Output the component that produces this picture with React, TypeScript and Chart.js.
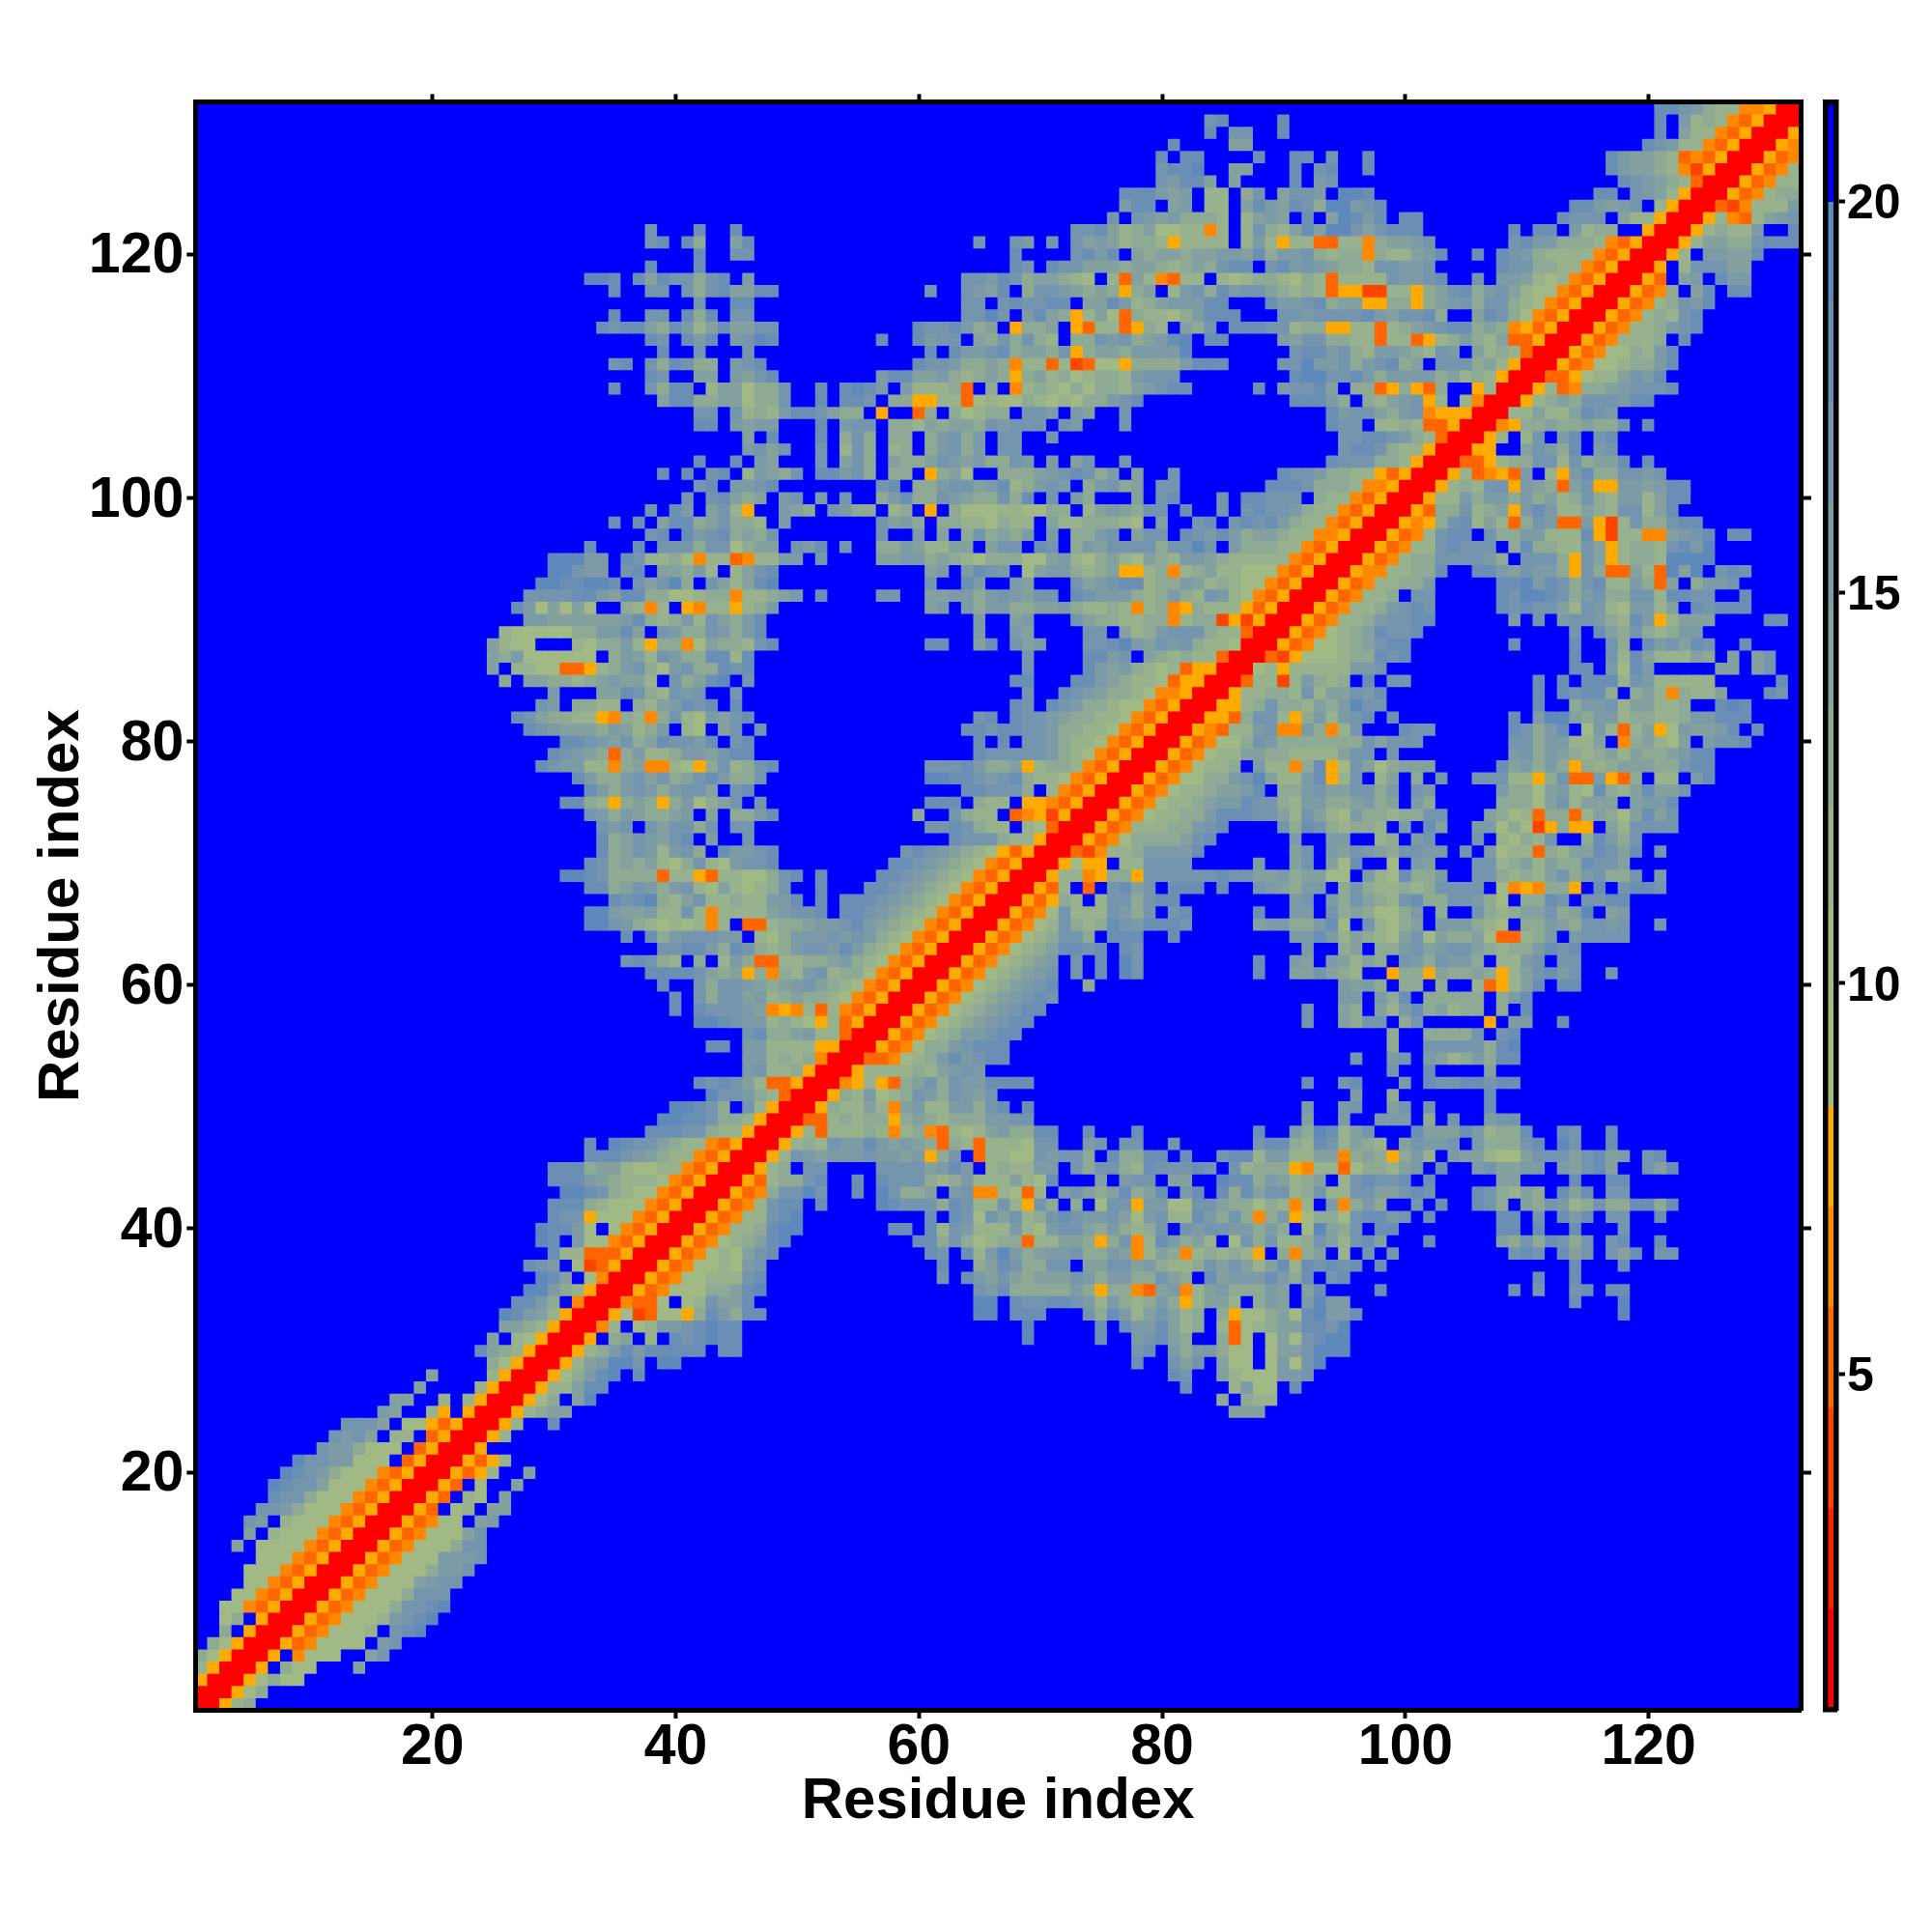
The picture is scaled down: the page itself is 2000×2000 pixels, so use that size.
import React, { useEffect, useRef } from "react";
import { Chart, registerables } from "chart.js";

Chart.register(...registerables);

// Residue-residue distance map. Every block holds rows, top row first.
// Each row: "startOffset:cells ...". Omitted cells are the top (blue) level. R,2,3,4,5 are the red/orange bins,
// a..i the nine green-to-steel bins. The map is symmetric, so only x <= y is listed.
const BLOCK_NW = ["","","","","","","","","","",
"37:g 41:h","37:gh 40:hd","41:h","37:h 41:h","32:iih 36:hehggdgh","34:h 37:gg 40:gdgh","41:g","34:h 37:gg 40:hdh","33:hghhedhfceh","37:hg 40:hfh","38:h 41:g","34:gh 37:gdhgdd","37:hg 41:ee","34:h 37:gdhh 42:ce","38:ehhdde","41:gg","41:hh","","","41:h","38:h 40:h 42:gh","41:gh","40:g 42:gh","37:g 39:hf 42:eg","34:h 36:h 38:ehhdeg","37:gh 40:hfgh","32:h 36:h 38:gggdgg","29:iiiff 35:hgccdb4cc","29:iigff 35:gh 38:eedfc","28:iihhiih 36:gegid 42:ge","27:gggghhfehhddbbcdd","26:hfaebeb 35:dc4c 40:54cc","27:ffeeeeeefhdcdfcge","25:cbbbbbddffhe 38:gfddgf"];

const BLOCK_N = ["","39:gh","39:h 41:gg","36:h 41:ee","35:h 37:hh 43:h","35:ghhi 41:ee","35:gfhhe 41:e","32:hhhfef 39:cc 42:dg","32:fhh 36:ef 39:cc 42:eh","31:g 33:gfefdddc 42:ce","0:h 28:gghecdebbcc4c 42:cg","0:eh 20:g 23:gf 26:g 28:gefecddc5cccc 42:cf","0:gg 23:h 28:ghfh 33:edeedeeffeh","23:hg 26:hggeeedeedcdedghh","1:f 19:ggfhgdeedcb 31:c3ec43cc 40:cbcd","0:eehh 16:g 19:gfeh 24:dggfeded5de 36:cfgdhfgg","0:hh 19:gg 22:gh 24:gghh 29:eehfcdefffhh","0:gg 19:ggig 24:fhed5ceb3dccbdfhhh","0:eegg 15:hgghfde 23:5dde 28:53cc35dc 37:edg 41:hhh","0:fgih 12:h 15:hfgg 20:edgdgdc 28:ddgfgdefhi 39:hh","1:g 16:h 18:hffghdeedg5deedffffi","0:fgh 15:hggfdded4cc3c23bb5ddddfhhh","0:fegh 12:fhheefdcded5decdbcddcfggg","0:ebddg 7:h 9:hihf 14:fcccd3 21:d 23:4cdcbdbddcefghh 43:h","0:ebddg 7:h 9:hhg 13:dd55cc3bcbbdcbcbddfgh","0:gcdcfhhgedd 12:5 15:3d 18:dbcdd 24:ggf 28:fe 32:g","0:feff 7:h 9:fgg 13:ddcedeedgfggg 27:gf 32:g","1:e 3:h 7:h 9:dgd 13:dd 16:dfgdf 22:gg 26:g","1:fgeg 7:g 9:cgd 13:cd 16:dfgdf 22:gg","0:h 2:fe 7:g 9:egd 13:eddegfefddgf 26:f 28:eg 32:g","1:cfedg 7:hhfgd 13:dd 16:5deb 22:dddefghgdf 33:e 36:g","0:ffgh 12:gh 15:ddfggefhcdfgf 29:dfgde 35:gg","0:ede 4:fg 7:f 9:g 12:dfhddgfeddgdh 26:g 28:fd 33:e 35:gh 40:g 42:hh","0:c5 4:fed 8:gfdd 13:cd 16:5 18:dbbbccbbdd 29:cefedgg 37:h 40:g 42:gh","0:ddc 4:f 12:gefd 17:ddccbdcc 26:eccdddcb 35:e 38:gh 41:ghg","0:dedg 12:g 15:f 17:e 19:dgdedf 26:f 28:ddfg 33:egg 37:hgfhfde","0:bdee 5:gfh 9:g 12:ddfeccee 21:egg 25:hg 28:dfeggggdggig 41:fdd","0:34cc 4:ff 7:g 12:eeffdedcbdddbbefcbdecbedcffedccc","0:cegh 16:ef 19:fhgf 24:beffdcde55cd4cdeccbb","0:cehi 16:g 19:hf 23:fe 28:gefghhcddfecdcbb","0:4ccdef 7:h 12:gg 16:eeffdfgfegg 28:hgfffdcdfdcgfcb4","0:5cdf 16:ef 19:fdffddeefdccdc4cd45dccc53","0:dfh 20:f 23:ef 28:geddccdd4cdd2525","0:dfh 20:f 23:fe 29:gg 32:ecdfgggdcc3R"];

const BLOCK_NE = ["32:hhgfdcc445RR","1:h 32:h 34:fcdc435RR","1:h 32:h 34:ecc435RR","31:hgfcc435RR","2:hh 5:g 8:h 28:hfeedc3435RR","2:h 4:gh 8:h 28:hfeedc425RR","2:h 4:fg 29:hgfedc3RR","1:eggf 6:iih 27:hh 30:gfec5RR","0:fehgdiifgh 25:hhfefg 32:c5RR","0:fe 3:h 5:eihfh 11:hh 24:hggg 29:ecc5RR","0:dceheiigeghhh 20:h 22:hh 25:fcdd 31:5RR","0:c5cc33cc4deefg 20:ghffdddc435RR","0:dffgdcdd4dccefh 17:h 19:hgfdcccc435RR","0:ghfgfeddcggffg 19:hggddcc435RR","0:dcbdc3ccccgffgh 17:g 19:ffecbc435RR","0:edcdc35522cc5deghdfgecbb435RR","0:hffghdee55dd5defgdggdcb435RR","1:ggfgggghfegghd 17:ehgdb435RR","0:ggcdd55cc3cdefghhded4535RR","1:feggddcc3cc35cdfdce335RR","2:ghhfgdcffedcgf 17:ecdc3RR","1:ggiffgdfghde 14:gggdec5RR","2:hiigghfdffffdecdc5RR","1:fgghe 7:dd35d53d 17:5cRR","2:hhhfd 8:dcefg 13:5c 16:c4RR","5:hfggedfg4555RR","5:hgg 9:ccdc335RR","6:gghhgfdc3RR","6:ghhgdcc5RR","5:hgggddc5RR","1:hggfddcc535RR","0:hhhgdddc445RR","0:ggg 4:dcc435RR","0:ggfdcc435RR","0:hfdcc435RR","0:edcc445RR","0:dcc435RR","0:cc435RR","0:b435RR","0:435RR","0:35RR","0:5RR","0:RR","0:R"];

const BLOCK_W = ["24:ecbb 31:cbddfc5dd4bed","24:edfbbbbbb 34:dfecgfddhh","24:e 26:ccbb335cdfgdbfgddh","25:d 27:eeddcdefeec 39:gdehi","29:f 33:eehgdcgfg","28:gf 31:ddcc 36:dcefhgh","26:hgeddcc54dc4dgcbfe","27:hgfeeedfecdf 40:cb 43:e","30:hhgfegdehggfh","29:hgfed3dfccdffeg","28:hgffcc4de44cb5dg","31:hfddfgegdeghf","32:hfdfgfdfgge","30:hhdc5ded5dfbde","32:gfdfeddef 42:e","33:gfg 37:geggdg","33:hdegfegh 42:f","33:hdegfcfgd 43:h","32:hgdedecbdgcb","30:iihgdddd3cc53c","32:hhdegfdfgcbe","34:hghidcegcc","32:iifeefccgc4c","32:iigfdcbcbc4c","35:h 37:hdfgggf","38:gghhfd","35:ghgdc 41:d 43:c","37:hhhhged","38:h 41:gdg","39:h 41:gdg","39:h 41:hgg","41:iih","","42:hh","","","41:hgh","42:ig","39:iihgd","38:iihhgd","37:hhhggdc","32:h 34:ihggedcc43","32:hhhgfedcc435","29:hhhdeecbbcc435R"];

const BLOCK_C = ["0:dcgh 16:hh 20:eh 23:gef 29:gghifegfgdccbRR","0:ch 24:g 29:hhfg 34:edcdcc3RR","0:gh 24:g 29:hfefdcbc355RR","1:g 23:hh 28:hhfedccb355RR","0:g 24:g 27:hgfeddcb445RR","0:h 23:hg 26:hgfddcbb435RR","0:gh 20:gh 23:hggfeddccb435RR","0:g 2:g 19:hhgh 23:hggfddccb435RR","0:gh 20:h 22:h 24:ggfdccb435RR","0:hh 20:hgggggfdcb435RR","0:cdgh 16:ggghfdde5cddc435RR","0:ddg 16:iihhgfghdccb435RR","0:gh 19:hhgggd 26:c435RR","0:g 2:g 16:hhh 20:dcc 24:55435RR","0:ddfh 15:d 18:gdcc 23:34525RR","0:gg 16:gghgdcc 24:cb3RR","1:g 18:hgggdcc5RR","0:ffgh 14:ghgfedcb535RR","0:fggh 13:hhgfedcb435RR","0:cbbdgh 7:h 12:hhgfedcb435RR","0:cbcdg 7:h 11:hhgfedcb435RR","0:dccffh 7:h 9:hhhgfedcb435RR","0:cccefggh 9:hhgfedcb435RR","1:33cddeffghfedcb435RR","0:f 2:cbdfffgfgfdcb435RR","0:hgdcdfggfhfdcb435RR","0:fd33ccddefdcb435RR","0:e5d4dcfgcddb435RR","0:gfedefgedcb435RR","0:gefcdeddcb435RR","0:gfe454c3c435RR","0:gffcdcb5c35RR","1:ghddefcc3RR","1:ffcccc55RR","1:ffcdcd4RR","1:fgccd5RR","0:gec335RR","0:gfdc3RR","1:gc5RR","0:dc5RR","0:c5RR","0:5RR","0:RR","0:R"];

const BLOCK_SW = ["29:hhhfedcccb435RR","30:iihgdcbb435RR","29:hhhdcbbb435RR","29:hgg5bbb435RR","28:ihhfb 34:b435RR","28:ih 31:fbb435RR","29:hcc3335RR","27:hgf 31:b235RR","28:ihe 32:b4RR","27:iifdc5RR","26:hhfd 31:4RR","25:ihfec5RR","25:eedc5RR","24:e 26:cb5RR","23:hedc5RR","24:db5RR","19:e 24:c5RR","18:e 23:c5RR","16:ee 20:c 22:c5RR","15:fe 19:c5 22:5RR","12:ggge 17:bb535RR","11:gfge 16:cc 19:35RR","10:gffdbbb 18:35RR","8:iggffbbb 17:35RR","7:ihgfdbbb435RR","6:ihggebbb435RR","6:hggdbbb435RR","5:ggfdbbb435RR","4:gf 7:cbbb435RR","4:e 6:cbbb435RR","3:e 5:bbbb435RR","5:bbb435RR","4:bbb435RR","4:bb435RR","3:bb435RR","2:bb435RR","2:bd 5:5RR","2:d 4:5RR","1:db5RR","0:db5RR","0:c5RR","0:5RR","0:RR","0:R"];

const BLOCK_ORIGINS: [string[], number, number][] = [
  [BLOCK_NW, 1, 132], [BLOCK_N, 45, 132], [BLOCK_NE, 89, 132],
  [BLOCK_W, 1, 88], [BLOCK_C, 45, 88], [BLOCK_SW, 1, 44],
];

const BIN_COLOURS = ["#ff0000","#ff2200","#ff4400","#ff6600","#ff8800","#ffaa00","#a5bc80","#a0b985","#97b28c","#8eaa95","#84a19f","#7c9ba6","#7495ad","#6b8fb4","#5f89bb","#0000ff"];
const BIN_SYMBOLS = "R12345abcdefghi";
const SCALE_MIN = 0.71;
const SCALE_MAX = 21.27;
const RESIDUES = 132;
const AXIS_TICKS = [20, 40, 60, 80, 100, 120];
const BAR_TICKS = [5, 10, 15, 20];
const AXIS_TITLE = "Residue index";

const binWidth = (SCALE_MAX - SCALE_MIN) / BIN_COLOURS.length;
const FONT = "'Liberation Sans', Arial, sans-serif";

function buildCells() {
  const size = RESIDUES + 1;
  const grid: number[][] = Array.from({ length: size }, () => new Array(size).fill(15));
  for (const [rows, baseX, topY] of BLOCK_ORIGINS) {
    rows.forEach((row, r) => {
      const y = topY - r;
      row.split(" ").filter(Boolean).forEach((tok) => {
        const [start, cells] = tok.split(":");
        [...cells].forEach((ch, i) => {
          const x = baseX + Number(start) + i;
          const bin = BIN_SYMBOLS.indexOf(ch);
          if (bin >= 0 && x <= RESIDUES && y >= 1) { grid[y][x] = bin; grid[x][y] = bin; }
        });
      });
    });
  }
  const points: { x: number; y: number; v: number }[] = [];
  const colours: string[] = [];
  for (let y = 1; y <= RESIDUES; y++) for (let x = 1; x <= RESIDUES; x++) {
    const bin = grid[y][x];
    points.push({ x, y, v: SCALE_MIN + (bin + 0.5) * binWidth });
    colours.push(BIN_COLOURS[bin]);
  }
  return { points, colours };
}

const fixedSize = (px: number) => (s: any) => {
  if (s.isHorizontal()) s.height = px; else s.width = px;
};

function axis(position: string, size: number, min: number, max: number, ticksAt: number[], o: any = {}) {
  return {
    type: "linear", position, min, max,
    afterFit: fixedSize(size),
    afterBuildTicks: (s: any) => { s.ticks = ticksAt.map((value) => ({ value })); },
    border: { display: true, color: "#000", width: o.frame ?? 5, z: 1 },
    grid: { display: true, drawOnChartArea: false, drawTicks: ticksAt.length > 0, tickLength: o.tickLength ?? 9, tickWidth: o.tickWidth ?? 4, tickColor: "#000", color: "#000" },
    ticks: {
      display: !!o.labels, autoSkip: false, maxRotation: 0, minRotation: 0, color: "#000",
      padding: o.padding ?? 0, labelOffset: o.labelOffset ?? 0,
      font: { family: FONT, weight: "bold", size: o.fontSize ?? 59 },
      callback: (v: any) => String(v),
    },
    title: o.title ? { display: true, text: o.title, color: "#000", font: { family: FONT, weight: "bold", size: 60, lineHeight: 1 }, padding: o.titlePadding } : { display: false },
  };
}

export default function App() {
  const mainRef = useRef<HTMLCanvasElement>(null);
  const barRef = useRef<HTMLCanvasElement>(null);
  useEffect(() => {
    const { points, colours } = buildCells();
    const lo = 0.5, hi = RESIDUES + 0.5;
    const main = new Chart(mainRef.current!, {
      type: "scatter",
      data: { datasets: [{ data: points as any, pointStyle: "rect", pointRadius: 9.63, pointBorderWidth: 0, pointBackgroundColor: colours, pointHoverRadius: 9.63 }] },
      options: {
        responsive: false, animation: false, events: [],
        layout: { padding: 0 },
        plugins: { legend: { display: false }, tooltip: { enabled: false } },
        scales: {
          x: axis("bottom", 230, lo, hi, AXIS_TICKS, { labels: true, padding: -5, title: AXIS_TITLE, titlePadding: { top: 0, bottom: 105 } }),
          xTop: axis("top", 105.4, lo, hi, AXIS_TICKS, { tickLength: 8 }),
          y: axis("left", 202.3, lo, hi, AXIS_TICKS, { labels: true, padding: 3, labelOffset: 3, title: AXIS_TITLE, titlePadding: { top: 34, bottom: 34 } }),
          yRight: axis("right", 136, lo, hi, AXIS_TICKS, { tickLength: 11 }),
        } as any,
      },
    } as any);
    const bar = new Chart(barRef.current!, {
      type: "bar",
      data: {
        labels: ["bar"],
        datasets: BIN_COLOURS.map((c, i) => ({
          data: [[SCALE_MIN + i * binWidth, SCALE_MIN + (i + 1) * binWidth]],
          backgroundColor: c, borderWidth: 0, barPercentage: 1, categoryPercentage: 1, grouped: false, yAxisID: "y", xAxisID: "x",
        })),
      },
      options: {
        responsive: false, animation: false, events: [],
        layout: { padding: 0 },
        plugins: { legend: { display: false }, tooltip: { enabled: false } },
        scales: {
          x: { type: "category", position: "bottom", afterFit: fixedSize(230), border: { display: true, color: "#000", width: 5.5, z: 1 }, grid: { display: false }, ticks: { display: false } },
          xTop: { type: "category", position: "top", labels: ["bar"], afterFit: fixedSize(105.4), border: { display: true, color: "#000", width: 5.5, z: 1 }, grid: { display: false }, ticks: { display: false } },
          yLeft: axis("left", 9.5, SCALE_MIN, SCALE_MAX, [], { frame: 5.5 }),
          y: axis("right", 99, SCALE_MIN, SCALE_MAX, BAR_TICKS, { frame: 5.5, labels: true, fontSize: 50, tickLength: 9, padding: 2, labelOffset: 4 }),
        } as any,
      },
    } as any);
    return () => { main.destroy(); bar.destroy(); };
  }, []);
  return (
    <div style={{ position: "absolute", left: 0, top: 0, width: 2000, height: 2000, background: "#fff" }}>
      <canvas ref={mainRef} width={2000} height={2000} style={{ position: "absolute", left: 0, top: 0, width: 2000, height: 2000 }} />
      <canvas ref={barRef} width={120} height={2000} style={{ position: "absolute", left: 1880, top: 0, width: 120, height: 2000 }} />
    </div>
  );
}
